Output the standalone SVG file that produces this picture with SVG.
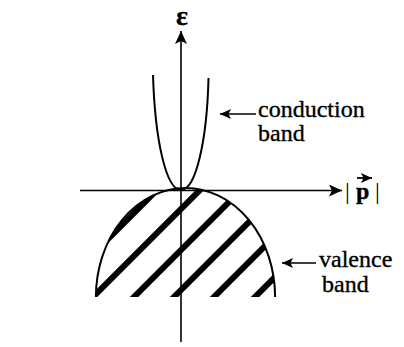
<svg xmlns="http://www.w3.org/2000/svg" width="404" height="347" viewBox="0 0 404 347">
<style>
.ax{stroke:#000;stroke-width:1.6;fill:none}
.curve{stroke:#000;stroke-width:2;fill:none}
.hatch{stroke:#000;stroke-width:6}
.lbl{font-family:"Liberation Serif","Times New Roman",serif;font-size:24px;fill:#000;stroke:#000;stroke-width:0.35}
</style>
<defs>
<marker id="ah" markerUnits="userSpaceOnUse" markerWidth="14" markerHeight="12" refX="13" refY="6" orient="auto">
<path d="M0,0 L13,6 L0,12 L3,6 Z" fill="#000"/>
</marker>
<marker id="ahs" markerUnits="userSpaceOnUse" markerWidth="12" markerHeight="10" refX="11" refY="5" orient="auto">
<path d="M0,0 L11,5 L0,10 L2.5,5 Z" fill="#000"/>
</marker>
<clipPath id="val">
<path d="M95.9,297 A89.6,109 0 0 1 275.1,297 Z"/>
</clipPath>
</defs>
<rect width="404" height="347" fill="#fff"/>
<g id="connectors">
<line class="ax" x1="181" y1="342" x2="181" y2="31" marker-end="url(#ah)"/>
<line class="ax" x1="80" y1="190.5" x2="342" y2="190.5" marker-end="url(#ah)"/>
<line class="ax" x1="256" y1="114" x2="220" y2="114" marker-end="url(#ahs)"/>
<line class="ax" x1="316" y1="263" x2="282" y2="263" marker-end="url(#ahs)"/>
</g>
<g id="conduction-band">
<path class="curve" d="M153,75 C155,140 166,190 181,190 C196,190 207,140 208.5,78"/>
</g>
<g id="valence-band">
<g clip-path="url(#val)">
<line class="hatch" x1="47" y1="300" x2="167" y2="180"/>
<line class="hatch" x1="90" y1="300" x2="210" y2="180"/>
<line class="hatch" x1="131" y1="300" x2="251" y2="180"/>
<line class="hatch" x1="171" y1="300" x2="291" y2="180"/>
<line class="hatch" x1="211" y1="300" x2="331" y2="180"/>
<line class="hatch" x1="252" y1="300" x2="372" y2="180"/>
</g>
<path class="curve" d="M95.9,297 A89.6,109 0 0 1 275.1,297"/>
</g>
<g id="labels">
<text class="lbl" x="182" y="25" text-anchor="middle" style="font-size:28px;font-weight:bold">ε</text>
<text class="lbl" x="345" y="199" style="stroke-width:0">|</text>
<text class="lbl" x="356" y="199" style="font-weight:bold">p</text>
<text class="lbl" x="375" y="199" style="stroke-width:0">|</text>
<line class="ax" x1="357" y1="178" x2="372" y2="178" marker-end="url(#ahs)" style="stroke-width:1.8"/>
<text class="lbl" x="258" y="117">conduction</text>
<text class="lbl" x="258" y="141">band</text>
<text class="lbl" x="319" y="267">valence</text>
<text class="lbl" x="322" y="292">band</text>
</g>
</svg>
